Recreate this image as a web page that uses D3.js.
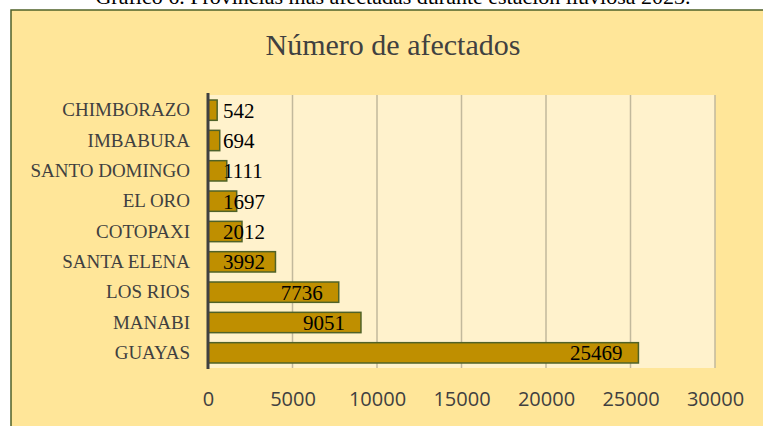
<!DOCTYPE html>
<html>
<head>
<meta charset="utf-8">
<script src="https://cdn.jsdelivr.net/npm/d3@7"></script>
<style>
  body { margin: 0; background: #fff; }
  svg { display: block; }
</style>
</head>
<body>
<script>
// data
var provincias = ["CHIMBORAZO", "IMBABURA", "SANTO DOMINGO", "EL ORO", "COTOPAXI", "SANTA ELENA", "LOS RIOS", "MANABI", "GUAYAS"];
var afectados = [542, 694, 1111, 1697, 2012, 3992, 7736, 9051, 25469];
var xTicks = [0, 5000, 10000, 15000, 20000, 25000, 30000];

const canvWidth = 763, canvHeight = 426;
const margin = {top: 95, right: 48, bottom: 58, left: 208};
const width = canvWidth - margin.left - margin.right;
const height = canvHeight - margin.top - margin.bottom;

var data = provincias.map(function (p, i) {
    return {name: p, value: afectados[i]};
});

const svg = d3.select("body").append("svg")
    .attr("width", canvWidth)
    .attr("height", canvHeight);

// outer chart box
svg.append("rect")
    .attr("x", 11).attr("y", 10)
    .attr("width", canvWidth)
    .attr("height", canvHeight)
    .attr("fill", "#FFE699")
    .attr("stroke", "#4F6228")
    .attr("stroke-width", 1.5);

// caption above the chart (cut off at the top in the source too)
svg.append("text")
    .attr("x", 393)
    .attr("y", 4)
    .attr("text-anchor", "middle")
    .attr("font-family", "Liberation Serif, serif")
    .attr("font-size", "22px")
    .attr("fill", "#000")
    .text("Gráfico 6. Provincias más afectadas durante estación lluviosa 2023.");

svg.append("text")
    .attr("x", 393)
    .attr("y", 55)
    .attr("text-anchor", "middle")
    .attr("font-family", "Liberation Serif, serif")
    .attr("font-size", "30px")
    .attr("fill", "#404040")
    .text("Número de afectados");

const g = svg.append("g")
    .attr("transform", "translate(" + margin.left + "," + margin.top + ")");

var xScale = d3.scaleLinear()
    .domain([0, 30000])
    .range([0, width]);

var yScale = d3.scaleBand()
    .domain(provincias)
    .range([0, height])
    .paddingInner(0.33)
    .paddingOuter(0.165);

// plot area
g.append("rect")
    .attr("width", width)
    .attr("height", height)
    .attr("fill", "#FFF2CC");

// vertical gridlines
g.selectAll("line.grid")
    .data(xTicks.slice(1))
    .enter()
    .append("line")
    .attr("class", "grid")
    .attr("x1", d => xScale(d)).attr("x2", d => xScale(d))
    .attr("y1", 0).attr("y2", height)
    .attr("stroke", "#C2B99C")
    .attr("stroke-width", 1.5);

// bars
g.selectAll("rect.bar")
    .data(data)
    .enter()
    .append("rect")
    .attr("class", "bar")
    .attr("x", xScale(0))
    .attr("y", d => yScale(d.name))
    .attr("width", d => xScale(d.value) - xScale(0))
    .attr("height", yScale.bandwidth())
    .attr("fill", "#BF8F00")
    .attr("stroke", "#4F6228")
    .attr("stroke-width", 1.5);

// value labels, inside end, pushed right when the bar is too short
var labels = g.selectAll("text.val")
    .data(data)
    .enter()
    .append("text")
    .attr("class", "val")
    .attr("y", d => yScale(d.name) + yScale.bandwidth() / 2)
    .attr("dy", "0.35em")
    .attr("text-anchor", "end")
    .attr("font-family", "Liberation Serif, serif")
    .attr("font-size", "21px")
    .attr("fill", "#000")
    .text(d => d.value);

labels.attr("x", function (d) {
    var w = this.getComputedTextLength();
    return Math.max(xScale(d.value) - 16, 15 + w);
});

// y axis: category names and the thick axis line
var yAxis = d3.axisLeft(yScale).tickSize(0).tickPadding(18);
var yg = g.append("g").call(yAxis);
yg.select(".domain").remove();
yg.selectAll("text")
    .attr("font-family", "Liberation Serif, serif")
    .attr("font-size", "19px")
    .attr("fill", "#404040");

g.append("line")
    .attr("x1", 0).attr("x2", 0)
    .attr("y1", -2).attr("y2", height + 1)
    .attr("stroke", "#404040")
    .attr("stroke-width", 3);

// x axis ticks, no line
var xAxis = d3.axisBottom(xScale).tickValues(xTicks).tickSize(0).tickPadding(24).tickFormat(d3.format("d"));
var xg = g.append("g")
    .attr("transform", "translate(0," + height + ")")
    .call(xAxis);
xg.select(".domain").remove();
xg.selectAll("text")
    .attr("font-family", "Open Sans, sans-serif")
    .attr("font-size", "20px")
    .attr("fill", "#404040");
</script>
</body>
</html>
